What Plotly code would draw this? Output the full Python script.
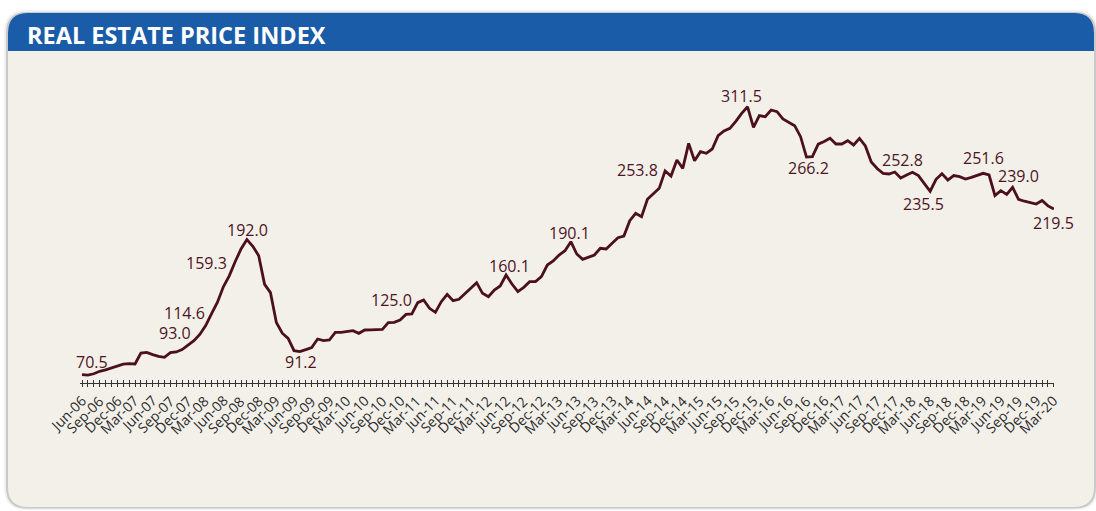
import pandas as pd
import plotly.graph_objects as go

# ---------------- data ----------------
start_month = "2006-06-01"
end_month = "2020-03-01"
months = pd.date_range(start_month, end_month, freq="MS")
month_labels = [d.strftime("%b-%y") for d in months]

index_values = [
    70.5, 70.0, 71.2, 73.4, 74.7, 76.6, 78.3, 79.8, 80.4, 80.0,
    89.9, 90.4, 88.5, 86.8, 86.0, 90.2, 90.8, 93.0, 97.0, 101.0,
    106.6, 114.6, 125.4, 135.6, 149.5, 159.3, 172.0, 183.5, 192.0, 186.0,
    177.5, 151.7, 144.2, 117.4, 107.7, 103.1, 92.0, 91.2, 93.0, 94.8,
    102.5, 101.0, 101.6, 108.5, 108.5, 109.3, 110.0, 107.6, 110.6, 110.8,
    111.0, 111.2, 117.2, 117.5, 119.6, 124.6, 125.0, 135.2, 137.6, 130.1,
    126.5, 136.1, 142.7, 137.0, 138.2, 143.6, 148.1, 153.2, 143.6, 140.6,
    146.6, 150.2, 160.1, 152.0, 145.1, 149.0, 154.1, 154.1, 158.6, 169.1,
    172.7, 178.1, 182.0, 190.1, 179.0, 174.2, 176.3, 178.1, 184.1, 183.5,
    188.6, 193.7, 195.2, 209.0, 215.6, 212.6, 228.2, 233.0, 238.1, 253.8,
    249.2, 263.6, 256.1, 278.6, 262.9, 271.1, 269.6, 273.5, 285.5, 289.7,
    292.1, 298.3, 305.5, 311.5, 293.0, 303.5, 302.6, 308.6, 307.1, 300.5,
    297.2, 294.5, 284.6, 266.2, 266.6, 277.9, 280.3, 283.1, 278.0, 278.0,
    281.0, 277.1, 283.1, 276.2, 261.8, 255.9, 251.5, 251.0, 252.8, 247.4,
    250.1, 252.5, 249.6, 242.6, 235.5, 246.2, 251.3, 245.6, 249.6, 248.6,
    246.5, 247.9, 250.1, 251.6, 250.1, 231.6, 236.0, 232.6, 239.0, 228.1,
    226.5, 224.9, 224.0, 227.1, 222.3, 219.5,
]
assert len(index_values) == len(month_labels)

# labelled points (month) and pixel offsets of each value label (x right, y up)
labelled_months = ["Jun-06", "Nov-07", "Mar-08", "Jul-08", "Oct-08", "Jul-09",
                   "Feb-11", "Jun-12", "May-13", "Sep-14", "Nov-15", "Sep-16",
                   "Dec-17", "Jun-18", "Mar-19", "Aug-19", "Mar-20"]
label_shifts = [(10, 13), (-7, 17), (-21, 13), (-23, 13), (1, 10), (1, -10),
                (-20, 14), (3, 9), (-1, 9), (-28, 1), (-6, 11), (2, -11),
                (8, 12), (-7, -13), (0, 15), (6, 11), (0, -14)]

tick_labels = month_labels[::3]
tick_positions = list(range(0, len(month_labels), 3))

title_text = "REAL ESTATE PRICE INDEX"

# ---------------- layout constants ----------------
FW, FH = 1096, 511
ML, MR, MT, MB = 80, 42, 95, 128
PW, PH = FW - ML - MR, FH - MT - MB
MONTH_PX = 5.89

LINE_COLOR = "#4c0f1d"
LABEL_COLOR = "#4d1424"
BODY_COLOR = "#f3f0ea"
HEADER_COLOR = "#1b5ca8"
AXIS_COLOR = "#333333"
TICK_TEXT_COLOR = "#2b2b2b"


def px(x, y):
    return (x - ML) / PW, 1 - (y - MT) / PH


def rounded_rect(x0, y0, x1, y1, r_tl, r_tr, r_br, r_bl):
    def P(x, y):
        a, b = px(x, y)
        return f"{a:.5f},{b:.5f}"
    pts = ["M " + P(x0 + r_tl, y0), "L " + P(x1 - r_tr, y0)]
    if r_tr:
        pts.append("Q " + P(x1, y0) + " " + P(x1, y0 + r_tr))
    pts.append("L " + P(x1, y1 - r_br))
    if r_br:
        pts.append("Q " + P(x1, y1) + " " + P(x1 - r_br, y1))
    pts.append("L " + P(x0 + r_bl, y1))
    if r_bl:
        pts.append("Q " + P(x0, y1) + " " + P(x0, y1 - r_bl))
    pts.append("L " + P(x0, y0 + r_tl))
    if r_tl:
        pts.append("Q " + P(x0, y0) + " " + P(x0 + r_tl, y0))
    pts.append("Z")
    return " ".join(pts)


x_idx = list(range(len(month_labels)))

fig = go.Figure()
fig.add_trace(go.Scatter(
    x=x_idx, y=index_values, mode="lines",
    line=dict(color=LINE_COLOR, width=2.8),
    hoverinfo="skip", showlegend=False,
))
# invisible trace on overlay axis (upward half of the cross tick marks)
fig.add_trace(go.Scatter(x=[0], y=[index_values[0]], xaxis="x2", mode="markers",
                         marker=dict(opacity=0), hoverinfo="skip", showlegend=False))

x0r = -(82 - ML) / MONTH_PX
xr = [x0r, x0r + PW / MONTH_PX]
yr = [70.1 - 0.9 * (MT + PH - 375), 70.1 + 0.9 * (375 - MT)]

shapes = [
    dict(type="path", xref="paper", yref="paper", layer="below",
         path=rounded_rect(4, 10, 1098, 510, 23, 23, 23, 23),
         fillcolor="rgba(0,0,0,0.06)", line=dict(width=0)),
    dict(type="path", xref="paper", yref="paper", layer="below",
         path=rounded_rect(6, 12, 1096, 508.5, 21, 21, 21, 21),
         fillcolor="rgba(0,0,0,0.16)", line=dict(width=0)),
    dict(type="path", xref="paper", yref="paper", layer="below",
         path=rounded_rect(8, 13, 1094, 507, 20, 20, 20, 20),
         fillcolor=BODY_COLOR, line=dict(width=0)),
    dict(type="path", xref="paper", yref="paper", layer="below",
         path=rounded_rect(8, 13, 1094, 51, 20, 20, 0, 0),
         fillcolor=HEADER_COLOR, line=dict(width=0)),
]

annotations = []
tx, ty = px(25, 35)
annotations.append(dict(text=title_text, xref="paper", yref="paper", x=tx, y=ty,
                        xanchor="left", yanchor="middle", showarrow=False,
                        font=dict(family="Open Sans", size=23.5, color="white", weight="bold")))
for lbl, (sx, sy) in zip(labelled_months, label_shifts):
    i = month_labels.index(lbl)
    v = index_values[i]
    annotations.append(dict(text=f"{v:.1f}", x=i, y=v, xref="x", yref="y",
                            showarrow=False, xanchor="center", yanchor="middle",
                            xshift=sx, yshift=sy,
                            font=dict(family="Open Sans", size=16, color=LABEL_COLOR)))
# rotated category labels (every third month), end of text just right of its tick
for pos, txt in zip(tick_positions, tick_labels):
    annotations.append(dict(text=txt, x=pos, y=0, xref="x", yref="paper",
                            showarrow=False, textangle=-45,
                            xanchor="right", yanchor="top", xshift=9, yshift=-7,
                            borderpad=0,
                            font=dict(family="Open Sans", size=14, color=TICK_TEXT_COLOR)))

fig.update_layout(
    width=FW, height=FH,
    margin=dict(l=ML, r=MR, t=MT, b=MB, pad=0),
    paper_bgcolor="white",
    plot_bgcolor="rgba(0,0,0,0)",
    shapes=shapes,
    annotations=annotations,
    showlegend=False,
    xaxis=dict(
        range=xr, tickmode="array", tickvals=tick_positions, ticktext=tick_labels,
        showticklabels=False,
        ticks="outside", ticklen=3, tickwidth=1, tickcolor=AXIS_COLOR,
        minor=dict(dtick=1, tick0=0, ticks="outside", ticklen=3, tickwidth=1, tickcolor=AXIS_COLOR),
        showline=True, linecolor=AXIS_COLOR, linewidth=1,
        showgrid=False, zeroline=False, fixedrange=True,
    ),
    xaxis2=dict(
        range=xr, overlaying="x", anchor="y", side="bottom",
        tickmode="linear", tick0=0, dtick=1, ticks="inside", ticklen=3, tickwidth=1,
        tickcolor=AXIS_COLOR, showticklabels=False, showgrid=False, zeroline=False,
        showline=False, fixedrange=True,
    ),
    yaxis=dict(range=yr, visible=False, showgrid=False, zeroline=False, fixedrange=True),
)

fig.write_html("out.html", config={"displayModeBar": False},
               post_script="document.body.style.margin='0px';")
